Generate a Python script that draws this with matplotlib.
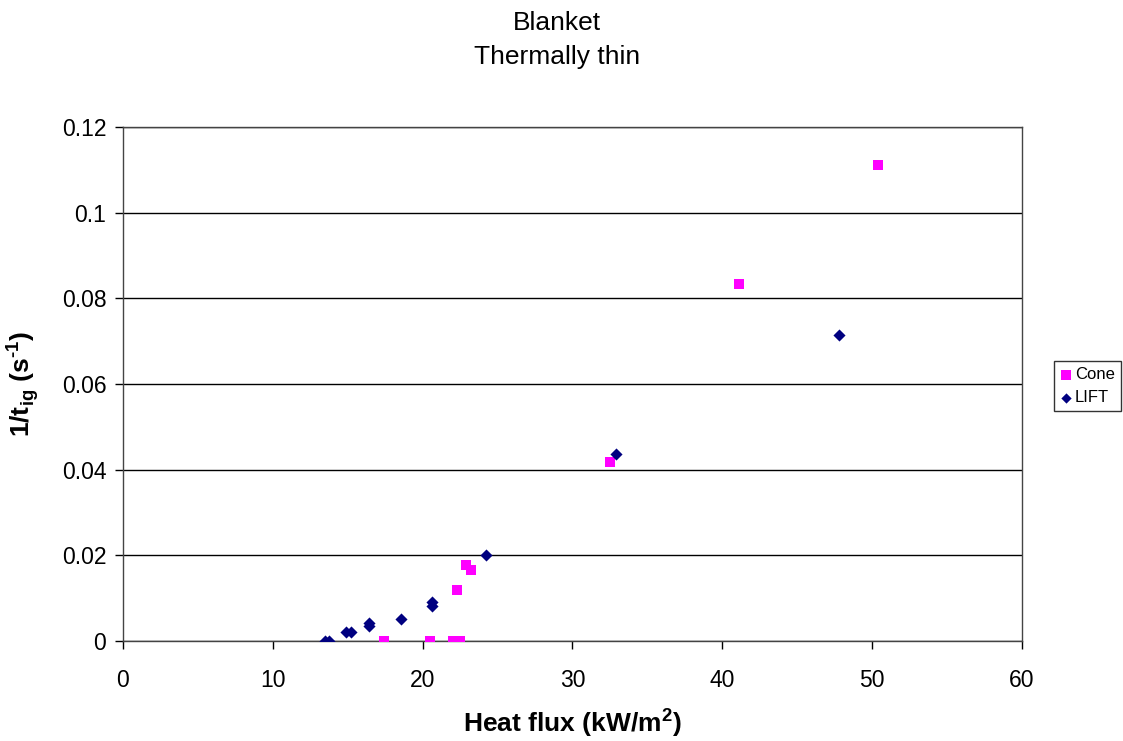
import matplotlib
matplotlib.use('Agg')
import matplotlib.pyplot as plt

plt.rcParams['font.family'] = ['Liberation Sans', 'DejaVu Sans']
plt.rcParams['mathtext.fontset'] = 'custom'
plt.rcParams['mathtext.rm'] = 'Liberation Sans'
plt.rcParams['mathtext.bf'] = 'Liberation Sans:bold'

# Cone calorimeter data
cone_x = [17.4, 20.5, 22.0, 22.5, 22.3, 22.9, 23.2, 32.5, 41.1, 50.4]
cone_y = [0.0, 0.0, 0.0, 0.0, 0.0120, 0.0177, 0.0165, 0.0417, 0.0834, 0.1112]

# LIFT data
lift_x = [13.5, 13.75, 14.9, 15.25, 16.45, 16.45, 18.55, 20.65, 20.65, 24.2, 32.9, 47.8]
lift_y = [0.0, 0.0, 0.0020, 0.0021, 0.0043, 0.0035, 0.0052, 0.0091, 0.0082, 0.0201, 0.0436, 0.0714]

xticks = [0, 10, 20, 30, 40, 50, 60]
yticks = [0, 0.02, 0.04, 0.06, 0.08, 0.1, 0.12]
yticklabels = ['0', '0.02', '0.04', '0.06', '0.08', '0.1', '0.12']

fig = plt.figure(figsize=(11.23, 7.41), dpi=100)
ax = fig.add_axes([0.1095, 0.135, 0.8005, 0.6936])

ax.set_axisbelow(True)
ax.yaxis.grid(True, color='black', linewidth=1.0)

ax.scatter(cone_x, cone_y, marker='s', s=60, color='#FF00FF', linewidths=0,
           label='Cone', zorder=3)
ax.scatter(lift_x, lift_y, marker='D', s=38, color='#000080', linewidths=0,
           label='LIFT', zorder=3)

ax.set_xlim(0, 60)
ax.set_ylim(0, 0.12)
ax.set_xticks(xticks)
ax.set_yticks(yticks)
ax.set_yticklabels(yticklabels)
ax.tick_params(direction='out', length=6, labelsize=16.5, width=1)
ax.tick_params(axis='x', pad=14)
ax.tick_params(axis='y', pad=6)
for sp in ax.spines.values():
    sp.set_color('#444444')
    sp.set_linewidth(1.0)

ax.set_xlabel('Heat flux (kW/m$^{\\mathbf{2}}$)', fontsize=19, fontweight='bold', labelpad=10)
ax.set_ylabel('1/t$_{\\mathbf{ig}}$ (s$^{\\mathbf{\u2010}\\mathbf{1}}$)', fontsize=19,
              fontweight='bold', labelpad=15)

fig.text(0.496, 0.985, 'Blanket\nThermally thin', ha='center', va='top',
         fontsize=19, linespacing=1.5)

leg = fig.legend(loc='center left', bbox_to_anchor=(0.9386, 0.479),
                 fontsize=12, frameon=True, fancybox=False, edgecolor='black',
                 handlelength=0.7, handletextpad=0.2, borderpad=0.35,
                 labelspacing=0.5, markerscale=0.85, borderaxespad=0)
leg.get_frame().set_linewidth(1.0)

fig.savefig('out.png', dpi=100)
